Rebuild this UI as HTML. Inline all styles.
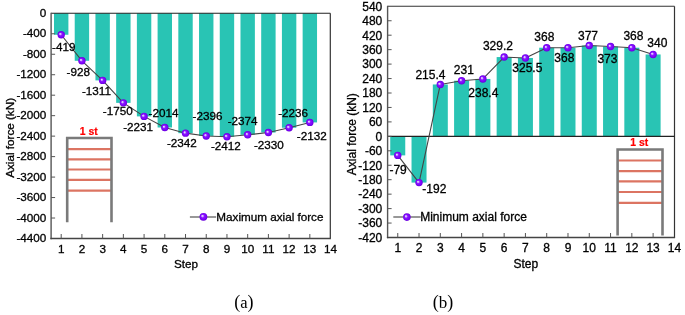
<!DOCTYPE html>
<html><head><meta charset="utf-8"><style>
html,body{margin:0;padding:0;background:#fff;}
body{width:685px;height:315px;overflow:hidden;font-family:"Liberation Sans",sans-serif;}
svg{display:block;will-change:transform;}
text{stroke:#000;stroke-width:0.3px;}
text.red{stroke:#f00;stroke-width:0.2px;}
</style></head><body>
<svg width="685" height="315" viewBox="0 0 685 315" font-family="Liberation Sans, sans-serif" fill="#000">
<defs>
<radialGradient id="ball" cx="0.5" cy="0.5" r="0.5" fx="0.34" fy="0.36">
<stop offset="0" stop-color="#f0e4ff"/>
<stop offset="0.2" stop-color="#d2acff"/>
<stop offset="0.42" stop-color="#8a18ff"/>
<stop offset="0.8" stop-color="#7a00f8"/>
<stop offset="1" stop-color="#6600d8"/>
</radialGradient>
</defs>
<rect width="685" height="315" fill="#fff"/>
<rect x="54.00" y="13.30" width="14.4" height="21.45" fill="#29c4b4"/>
<rect x="74.72" y="13.30" width="14.4" height="47.50" fill="#29c4b4"/>
<rect x="95.44" y="13.30" width="14.4" height="67.10" fill="#29c4b4"/>
<rect x="116.16" y="13.30" width="14.4" height="89.57" fill="#29c4b4"/>
<rect x="136.88" y="13.30" width="14.4" height="103.08" fill="#29c4b4"/>
<rect x="157.60" y="13.30" width="14.4" height="114.19" fill="#29c4b4"/>
<rect x="178.32" y="13.30" width="14.4" height="119.87" fill="#29c4b4"/>
<rect x="199.04" y="13.30" width="14.4" height="122.63" fill="#29c4b4"/>
<rect x="219.76" y="13.30" width="14.4" height="123.45" fill="#29c4b4"/>
<rect x="240.48" y="13.30" width="14.4" height="121.51" fill="#29c4b4"/>
<rect x="261.20" y="13.30" width="14.4" height="119.25" fill="#29c4b4"/>
<rect x="281.92" y="13.30" width="14.4" height="114.44" fill="#29c4b4"/>
<rect x="302.64" y="13.30" width="14.4" height="109.12" fill="#29c4b4"/>
<line x1="67.20" y1="149.10" x2="111.50" y2="149.10" stroke="#dc7462" stroke-width="2.2"/>
<line x1="67.20" y1="159.30" x2="111.50" y2="159.30" stroke="#dc7462" stroke-width="2.2"/>
<line x1="67.20" y1="169.50" x2="111.50" y2="169.50" stroke="#dc7462" stroke-width="2.2"/>
<line x1="67.20" y1="179.80" x2="111.50" y2="179.80" stroke="#dc7462" stroke-width="2.2"/>
<line x1="67.20" y1="190.60" x2="111.50" y2="190.60" stroke="#dc7462" stroke-width="2.2"/>
<path d="M67.20,222.30 L67.20,138.00 L111.50,138.00 L111.50,222.30" fill="none" stroke="#7a7a7a" stroke-width="2.6" stroke-linejoin="miter"/>
<text x="88.70" y="134.50" font-size="10.4" font-weight="bold" fill="#f00" class="red" text-anchor="middle">1 st</text>
<line x1="51.1" y1="13.3" x2="330.3" y2="13.3" stroke="#222" stroke-width="1.1"/>
<line x1="330.3" y1="13.3" x2="330.3" y2="238.5" stroke="#333" stroke-width="1.2"/>
<line x1="51.1" y1="12.8" x2="51.1" y2="239.2" stroke="#555" stroke-width="1.4"/>
<line x1="50.4" y1="238.5" x2="330.90000000000003" y2="238.5" stroke="#444" stroke-width="1.4"/>
<text x="46.30" y="16.80" font-size="11.7" text-anchor="end" >0</text>
<line x1="51.1" y1="33.77" x2="55.1" y2="33.77" stroke="#555" stroke-width="1.0"/>
<text x="46.30" y="37.27" font-size="11.7" text-anchor="end" >-400</text>
<line x1="51.1" y1="54.25" x2="55.1" y2="54.25" stroke="#555" stroke-width="1.0"/>
<text x="46.30" y="57.75" font-size="11.7" text-anchor="end" >-800</text>
<line x1="51.1" y1="74.72" x2="55.1" y2="74.72" stroke="#555" stroke-width="1.0"/>
<text x="46.30" y="78.22" font-size="11.7" text-anchor="end" >-1200</text>
<line x1="51.1" y1="95.19" x2="55.1" y2="95.19" stroke="#555" stroke-width="1.0"/>
<text x="46.30" y="98.69" font-size="11.7" text-anchor="end" >-1600</text>
<line x1="51.1" y1="115.66" x2="55.1" y2="115.66" stroke="#555" stroke-width="1.0"/>
<text x="46.30" y="119.16" font-size="11.7" text-anchor="end" >-2000</text>
<line x1="51.1" y1="136.14" x2="55.1" y2="136.14" stroke="#555" stroke-width="1.0"/>
<text x="46.30" y="139.64" font-size="11.7" text-anchor="end" >-2400</text>
<line x1="51.1" y1="156.61" x2="55.1" y2="156.61" stroke="#555" stroke-width="1.0"/>
<text x="46.30" y="160.11" font-size="11.7" text-anchor="end" >-2800</text>
<line x1="51.1" y1="177.08" x2="55.1" y2="177.08" stroke="#555" stroke-width="1.0"/>
<text x="46.30" y="180.58" font-size="11.7" text-anchor="end" >-3200</text>
<line x1="51.1" y1="197.55" x2="55.1" y2="197.55" stroke="#555" stroke-width="1.0"/>
<text x="46.30" y="201.05" font-size="11.7" text-anchor="end" >-3600</text>
<line x1="51.1" y1="218.03" x2="55.1" y2="218.03" stroke="#555" stroke-width="1.0"/>
<text x="46.30" y="221.53" font-size="11.7" text-anchor="end" >-4000</text>
<text x="46.30" y="242.00" font-size="11.7" text-anchor="end" >-4400</text>
<line x1="61.20" y1="238.5" x2="61.20" y2="234.0" stroke="#555" stroke-width="1.0"/>
<text x="61.20" y="252.80" font-size="11.7" text-anchor="middle" >1</text>
<line x1="81.92" y1="238.5" x2="81.92" y2="234.0" stroke="#555" stroke-width="1.0"/>
<text x="81.92" y="252.80" font-size="11.7" text-anchor="middle" >2</text>
<line x1="102.64" y1="238.5" x2="102.64" y2="234.0" stroke="#555" stroke-width="1.0"/>
<text x="102.64" y="252.80" font-size="11.7" text-anchor="middle" >3</text>
<line x1="123.36" y1="238.5" x2="123.36" y2="234.0" stroke="#555" stroke-width="1.0"/>
<text x="123.36" y="252.80" font-size="11.7" text-anchor="middle" >4</text>
<line x1="144.08" y1="238.5" x2="144.08" y2="234.0" stroke="#555" stroke-width="1.0"/>
<text x="144.08" y="252.80" font-size="11.7" text-anchor="middle" >5</text>
<line x1="164.80" y1="238.5" x2="164.80" y2="234.0" stroke="#555" stroke-width="1.0"/>
<text x="164.80" y="252.80" font-size="11.7" text-anchor="middle" >6</text>
<line x1="185.52" y1="238.5" x2="185.52" y2="234.0" stroke="#555" stroke-width="1.0"/>
<text x="185.52" y="252.80" font-size="11.7" text-anchor="middle" >7</text>
<line x1="206.24" y1="238.5" x2="206.24" y2="234.0" stroke="#555" stroke-width="1.0"/>
<text x="206.24" y="252.80" font-size="11.7" text-anchor="middle" >8</text>
<line x1="226.96" y1="238.5" x2="226.96" y2="234.0" stroke="#555" stroke-width="1.0"/>
<text x="226.96" y="252.80" font-size="11.7" text-anchor="middle" >9</text>
<line x1="247.68" y1="238.5" x2="247.68" y2="234.0" stroke="#555" stroke-width="1.0"/>
<text x="247.68" y="252.80" font-size="11.7" text-anchor="middle" >10</text>
<line x1="268.40" y1="238.5" x2="268.40" y2="234.0" stroke="#555" stroke-width="1.0"/>
<text x="268.40" y="252.80" font-size="11.7" text-anchor="middle" >11</text>
<line x1="289.12" y1="238.5" x2="289.12" y2="234.0" stroke="#555" stroke-width="1.0"/>
<text x="289.12" y="252.80" font-size="11.7" text-anchor="middle" >12</text>
<line x1="309.84" y1="238.5" x2="309.84" y2="234.0" stroke="#555" stroke-width="1.0"/>
<text x="309.84" y="252.80" font-size="11.7" text-anchor="middle" >13</text>
<text x="330.56" y="252.80" font-size="11.7" text-anchor="middle" >14</text>
<text x="186.00" y="268.00" font-size="11.7" text-anchor="middle" >Step</text>
<text transform="translate(13.6,137.9) rotate(-90)" font-size="11.7" text-anchor="middle">Axial force (kN)</text>
<polyline points="61.20,34.75 81.92,60.80 102.64,80.40 123.36,102.87 144.08,116.38 164.80,127.49 185.52,133.17 206.24,135.93 226.96,136.75 247.68,134.81 268.40,132.55 289.12,127.74 309.84,122.42" fill="none" stroke="#444" stroke-width="1.1" stroke-linejoin="round"/>
<circle cx="61.20" cy="34.75" r="3.7" fill="url(#ball)"/>
<circle cx="81.92" cy="60.80" r="3.7" fill="url(#ball)"/>
<circle cx="102.64" cy="80.40" r="3.7" fill="url(#ball)"/>
<circle cx="123.36" cy="102.87" r="3.7" fill="url(#ball)"/>
<circle cx="144.08" cy="116.38" r="3.7" fill="url(#ball)"/>
<circle cx="164.80" cy="127.49" r="3.7" fill="url(#ball)"/>
<circle cx="185.52" cy="133.17" r="3.7" fill="url(#ball)"/>
<circle cx="206.24" cy="135.93" r="3.7" fill="url(#ball)"/>
<circle cx="226.96" cy="136.75" r="3.7" fill="url(#ball)"/>
<circle cx="247.68" cy="134.81" r="3.7" fill="url(#ball)"/>
<circle cx="268.40" cy="132.55" r="3.7" fill="url(#ball)"/>
<circle cx="289.12" cy="127.74" r="3.7" fill="url(#ball)"/>
<circle cx="309.84" cy="122.42" r="3.7" fill="url(#ball)"/>
<text x="52.00" y="51.00" font-size="11.7" text-anchor="start" >-419</text>
<text x="66.60" y="75.70" font-size="11.7" text-anchor="start" >-928</text>
<text x="81.90" y="95.30" font-size="11.7" text-anchor="start" >-1311</text>
<text x="102.80" y="114.80" font-size="11.7" text-anchor="start" >-1750</text>
<text x="148.50" y="116.70" font-size="11.7" text-anchor="start" >-2014</text>
<text x="123.20" y="131.30" font-size="11.7" text-anchor="start" >-2231</text>
<text x="166.90" y="146.70" font-size="11.7" text-anchor="start" >-2342</text>
<text x="192.60" y="119.60" font-size="11.7" text-anchor="start" >-2396</text>
<text x="210.90" y="149.50" font-size="11.7" text-anchor="start" >-2412</text>
<text x="227.70" y="124.50" font-size="11.7" text-anchor="start" >-2374</text>
<text x="253.90" y="149.00" font-size="11.7" text-anchor="start" >-2330</text>
<text x="278.20" y="117.40" font-size="11.7" text-anchor="start" >-2236</text>
<text x="296.80" y="140.00" font-size="11.7" text-anchor="start" >-2132</text>
<line x1="189.9" y1="217" x2="216.1" y2="217" stroke="#444" stroke-width="1.1"/>
<circle cx="203.40" cy="216.80" r="3.9" fill="url(#ball)"/>
<text x="216.30" y="221.00" font-size="11.7" text-anchor="start" >Maximum axial force</text>
<rect x="390.25" y="136.35" width="15.0" height="19.03" fill="#29c4b4"/>
<rect x="411.53" y="136.35" width="15.0" height="46.24" fill="#29c4b4"/>
<rect x="432.81" y="84.47" width="15.0" height="51.88" fill="#29c4b4"/>
<rect x="454.09" y="80.72" width="15.0" height="55.63" fill="#29c4b4"/>
<rect x="475.37" y="78.94" width="15.0" height="57.41" fill="#29c4b4"/>
<rect x="496.65" y="57.07" width="15.0" height="79.28" fill="#29c4b4"/>
<rect x="517.93" y="57.96" width="15.0" height="78.39" fill="#29c4b4"/>
<rect x="539.21" y="47.72" width="15.0" height="88.63" fill="#29c4b4"/>
<rect x="560.49" y="47.72" width="15.0" height="88.63" fill="#29c4b4"/>
<rect x="581.77" y="45.56" width="15.0" height="90.79" fill="#29c4b4"/>
<rect x="603.05" y="46.52" width="15.0" height="89.83" fill="#29c4b4"/>
<rect x="624.33" y="47.72" width="15.0" height="88.63" fill="#29c4b4"/>
<rect x="645.61" y="54.47" width="15.0" height="81.88" fill="#29c4b4"/>
<line x1="617.60" y1="160.50" x2="662.50" y2="160.50" stroke="#dc7462" stroke-width="2.2"/>
<line x1="617.60" y1="171.10" x2="662.50" y2="171.10" stroke="#dc7462" stroke-width="2.2"/>
<line x1="617.60" y1="181.40" x2="662.50" y2="181.40" stroke="#dc7462" stroke-width="2.2"/>
<line x1="617.60" y1="192.00" x2="662.50" y2="192.00" stroke="#dc7462" stroke-width="2.2"/>
<line x1="617.60" y1="202.90" x2="662.50" y2="202.90" stroke="#dc7462" stroke-width="2.2"/>
<path d="M617.60,235.50 L617.60,149.50 L662.50,149.50 L662.50,235.50" fill="none" stroke="#7a7a7a" stroke-width="2.6" stroke-linejoin="miter"/>
<text x="639.20" y="145.90" font-size="10.4" font-weight="bold" fill="#f00" class="red" text-anchor="middle">1 st</text>
<line x1="387.6" y1="6.3" x2="674.5" y2="6.3" stroke="#333" stroke-width="1.1"/>
<line x1="674.5" y1="6.3" x2="674.5" y2="237.5" stroke="#333" stroke-width="1.2"/>
<line x1="387.6" y1="136.35" x2="674.5" y2="136.35" stroke="#222" stroke-width="1.1"/>
<line x1="387.6" y1="5.8" x2="387.6" y2="238.2" stroke="#555" stroke-width="1.4"/>
<line x1="386.90000000000003" y1="237.5" x2="675.1" y2="237.5" stroke="#444" stroke-width="1.4"/>
<text x="382.30" y="10.60" font-size="12.0" text-anchor="end" >540</text>
<line x1="387.6" y1="20.75" x2="391.6" y2="20.75" stroke="#555" stroke-width="1.0"/>
<text x="382.30" y="25.05" font-size="12.0" text-anchor="end" >480</text>
<line x1="387.6" y1="35.20" x2="391.6" y2="35.20" stroke="#555" stroke-width="1.0"/>
<text x="382.30" y="39.50" font-size="12.0" text-anchor="end" >420</text>
<line x1="387.6" y1="49.65" x2="391.6" y2="49.65" stroke="#555" stroke-width="1.0"/>
<text x="382.30" y="53.95" font-size="12.0" text-anchor="end" >360</text>
<line x1="387.6" y1="64.10" x2="391.6" y2="64.10" stroke="#555" stroke-width="1.0"/>
<text x="382.30" y="68.40" font-size="12.0" text-anchor="end" >300</text>
<line x1="387.6" y1="78.55" x2="391.6" y2="78.55" stroke="#555" stroke-width="1.0"/>
<text x="382.30" y="82.85" font-size="12.0" text-anchor="end" >240</text>
<line x1="387.6" y1="93.00" x2="391.6" y2="93.00" stroke="#555" stroke-width="1.0"/>
<text x="382.30" y="97.30" font-size="12.0" text-anchor="end" >180</text>
<line x1="387.6" y1="107.45" x2="391.6" y2="107.45" stroke="#555" stroke-width="1.0"/>
<text x="382.30" y="111.75" font-size="12.0" text-anchor="end" >120</text>
<line x1="387.6" y1="121.90" x2="391.6" y2="121.90" stroke="#555" stroke-width="1.0"/>
<text x="382.30" y="126.20" font-size="12.0" text-anchor="end" >60</text>
<line x1="387.6" y1="136.35" x2="391.6" y2="136.35" stroke="#555" stroke-width="1.0"/>
<text x="382.30" y="140.65" font-size="12.0" text-anchor="end" >0</text>
<line x1="387.6" y1="150.80" x2="391.6" y2="150.80" stroke="#555" stroke-width="1.0"/>
<text x="382.30" y="155.10" font-size="12.0" text-anchor="end" >-60</text>
<line x1="387.6" y1="165.25" x2="391.6" y2="165.25" stroke="#555" stroke-width="1.0"/>
<text x="382.30" y="169.55" font-size="12.0" text-anchor="end" >-120</text>
<line x1="387.6" y1="179.70" x2="391.6" y2="179.70" stroke="#555" stroke-width="1.0"/>
<text x="382.30" y="184.00" font-size="12.0" text-anchor="end" >-180</text>
<line x1="387.6" y1="194.15" x2="391.6" y2="194.15" stroke="#555" stroke-width="1.0"/>
<text x="382.30" y="198.45" font-size="12.0" text-anchor="end" >-240</text>
<line x1="387.6" y1="208.60" x2="391.6" y2="208.60" stroke="#555" stroke-width="1.0"/>
<text x="382.30" y="212.90" font-size="12.0" text-anchor="end" >-300</text>
<line x1="387.6" y1="223.05" x2="391.6" y2="223.05" stroke="#555" stroke-width="1.0"/>
<text x="382.30" y="227.35" font-size="12.0" text-anchor="end" >-360</text>
<text x="382.30" y="241.80" font-size="12.0" text-anchor="end" >-420</text>
<line x1="397.75" y1="237.5" x2="397.75" y2="233.0" stroke="#555" stroke-width="1.0"/>
<text x="397.75" y="252.20" font-size="12.0" text-anchor="middle" >1</text>
<line x1="419.03" y1="237.5" x2="419.03" y2="233.0" stroke="#555" stroke-width="1.0"/>
<text x="419.03" y="252.20" font-size="12.0" text-anchor="middle" >2</text>
<line x1="440.31" y1="237.5" x2="440.31" y2="233.0" stroke="#555" stroke-width="1.0"/>
<text x="440.31" y="252.20" font-size="12.0" text-anchor="middle" >3</text>
<line x1="461.59" y1="237.5" x2="461.59" y2="233.0" stroke="#555" stroke-width="1.0"/>
<text x="461.59" y="252.20" font-size="12.0" text-anchor="middle" >4</text>
<line x1="482.87" y1="237.5" x2="482.87" y2="233.0" stroke="#555" stroke-width="1.0"/>
<text x="482.87" y="252.20" font-size="12.0" text-anchor="middle" >5</text>
<line x1="504.15" y1="237.5" x2="504.15" y2="233.0" stroke="#555" stroke-width="1.0"/>
<text x="504.15" y="252.20" font-size="12.0" text-anchor="middle" >6</text>
<line x1="525.43" y1="237.5" x2="525.43" y2="233.0" stroke="#555" stroke-width="1.0"/>
<text x="525.43" y="252.20" font-size="12.0" text-anchor="middle" >7</text>
<line x1="546.71" y1="237.5" x2="546.71" y2="233.0" stroke="#555" stroke-width="1.0"/>
<text x="546.71" y="252.20" font-size="12.0" text-anchor="middle" >8</text>
<line x1="567.99" y1="237.5" x2="567.99" y2="233.0" stroke="#555" stroke-width="1.0"/>
<text x="567.99" y="252.20" font-size="12.0" text-anchor="middle" >9</text>
<line x1="589.27" y1="237.5" x2="589.27" y2="233.0" stroke="#555" stroke-width="1.0"/>
<text x="589.27" y="252.20" font-size="12.0" text-anchor="middle" >10</text>
<line x1="610.55" y1="237.5" x2="610.55" y2="233.0" stroke="#555" stroke-width="1.0"/>
<text x="610.55" y="252.20" font-size="12.0" text-anchor="middle" >11</text>
<line x1="631.83" y1="237.5" x2="631.83" y2="233.0" stroke="#555" stroke-width="1.0"/>
<text x="631.83" y="252.20" font-size="12.0" text-anchor="middle" >12</text>
<line x1="653.11" y1="237.5" x2="653.11" y2="233.0" stroke="#555" stroke-width="1.0"/>
<text x="653.11" y="252.20" font-size="12.0" text-anchor="middle" >13</text>
<text x="674.39" y="252.20" font-size="12.0" text-anchor="middle" >14</text>
<text x="525.80" y="268.00" font-size="12.0" text-anchor="middle" >Step</text>
<text transform="translate(355.5,134.2) rotate(-90)" font-size="12.0" text-anchor="middle">Axial force (kN)</text>
<polyline points="397.75,155.38 419.03,182.59 440.31,84.47 461.59,80.72 482.87,78.94 504.15,57.07 525.43,57.96 546.71,47.72 567.99,47.72 589.27,45.56 610.55,46.52 631.83,47.72 653.11,54.47" fill="none" stroke="#444" stroke-width="1.1" stroke-linejoin="round"/>
<circle cx="397.75" cy="155.38" r="3.7" fill="url(#ball)"/>
<circle cx="419.03" cy="182.59" r="3.7" fill="url(#ball)"/>
<circle cx="440.31" cy="84.47" r="3.7" fill="url(#ball)"/>
<circle cx="461.59" cy="80.72" r="3.7" fill="url(#ball)"/>
<circle cx="482.87" cy="78.94" r="3.7" fill="url(#ball)"/>
<circle cx="504.15" cy="57.07" r="3.7" fill="url(#ball)"/>
<circle cx="525.43" cy="57.96" r="3.7" fill="url(#ball)"/>
<circle cx="546.71" cy="47.72" r="3.7" fill="url(#ball)"/>
<circle cx="567.99" cy="47.72" r="3.7" fill="url(#ball)"/>
<circle cx="589.27" cy="45.56" r="3.7" fill="url(#ball)"/>
<circle cx="610.55" cy="46.52" r="3.7" fill="url(#ball)"/>
<circle cx="631.83" cy="47.72" r="3.7" fill="url(#ball)"/>
<circle cx="653.11" cy="54.47" r="3.7" fill="url(#ball)"/>
<text x="389.40" y="174.30" font-size="12.0" text-anchor="start" >-79</text>
<text x="422.30" y="192.90" font-size="12.0" text-anchor="start" >-192</text>
<text x="415.40" y="79.40" font-size="12.0" text-anchor="start" >215.4</text>
<text x="453.80" y="74.30" font-size="12.0" text-anchor="start" >231</text>
<text x="468.30" y="97.20" font-size="12.0" text-anchor="start" >238.4</text>
<text x="482.90" y="50.00" font-size="12.0" text-anchor="start" >329.2</text>
<text x="512.30" y="72.00" font-size="12.0" text-anchor="start" >325.5</text>
<text x="534.30" y="40.90" font-size="12.0" text-anchor="start" >368</text>
<text x="554.30" y="62.00" font-size="12.0" text-anchor="start" >368</text>
<text x="578.00" y="40.00" font-size="12.0" text-anchor="start" >377</text>
<text x="597.40" y="63.40" font-size="12.0" text-anchor="start" >373</text>
<text x="623.40" y="40.00" font-size="12.0" text-anchor="start" >368</text>
<text x="647.30" y="47.00" font-size="12.0" text-anchor="start" >340</text>
<line x1="393.3" y1="217" x2="420.7" y2="217" stroke="#444" stroke-width="1.1"/>
<circle cx="406.90" cy="217.10" r="3.8" fill="url(#ball)"/>
<text x="420.20" y="221.20" font-size="12.0" text-anchor="start" >Minimum axial force</text>
<text x="243.9" y="308" font-family="Liberation Serif, serif" font-size="18" text-anchor="middle" dy="0.4" style="stroke:none">(<tspan font-size="16.5">a</tspan>)</text>
<text x="443" y="308" font-family="Liberation Serif, serif" font-size="18" text-anchor="middle" dy="0.4" style="stroke:none">(<tspan font-size="17">b</tspan>)</text>
</svg>
</body></html>
